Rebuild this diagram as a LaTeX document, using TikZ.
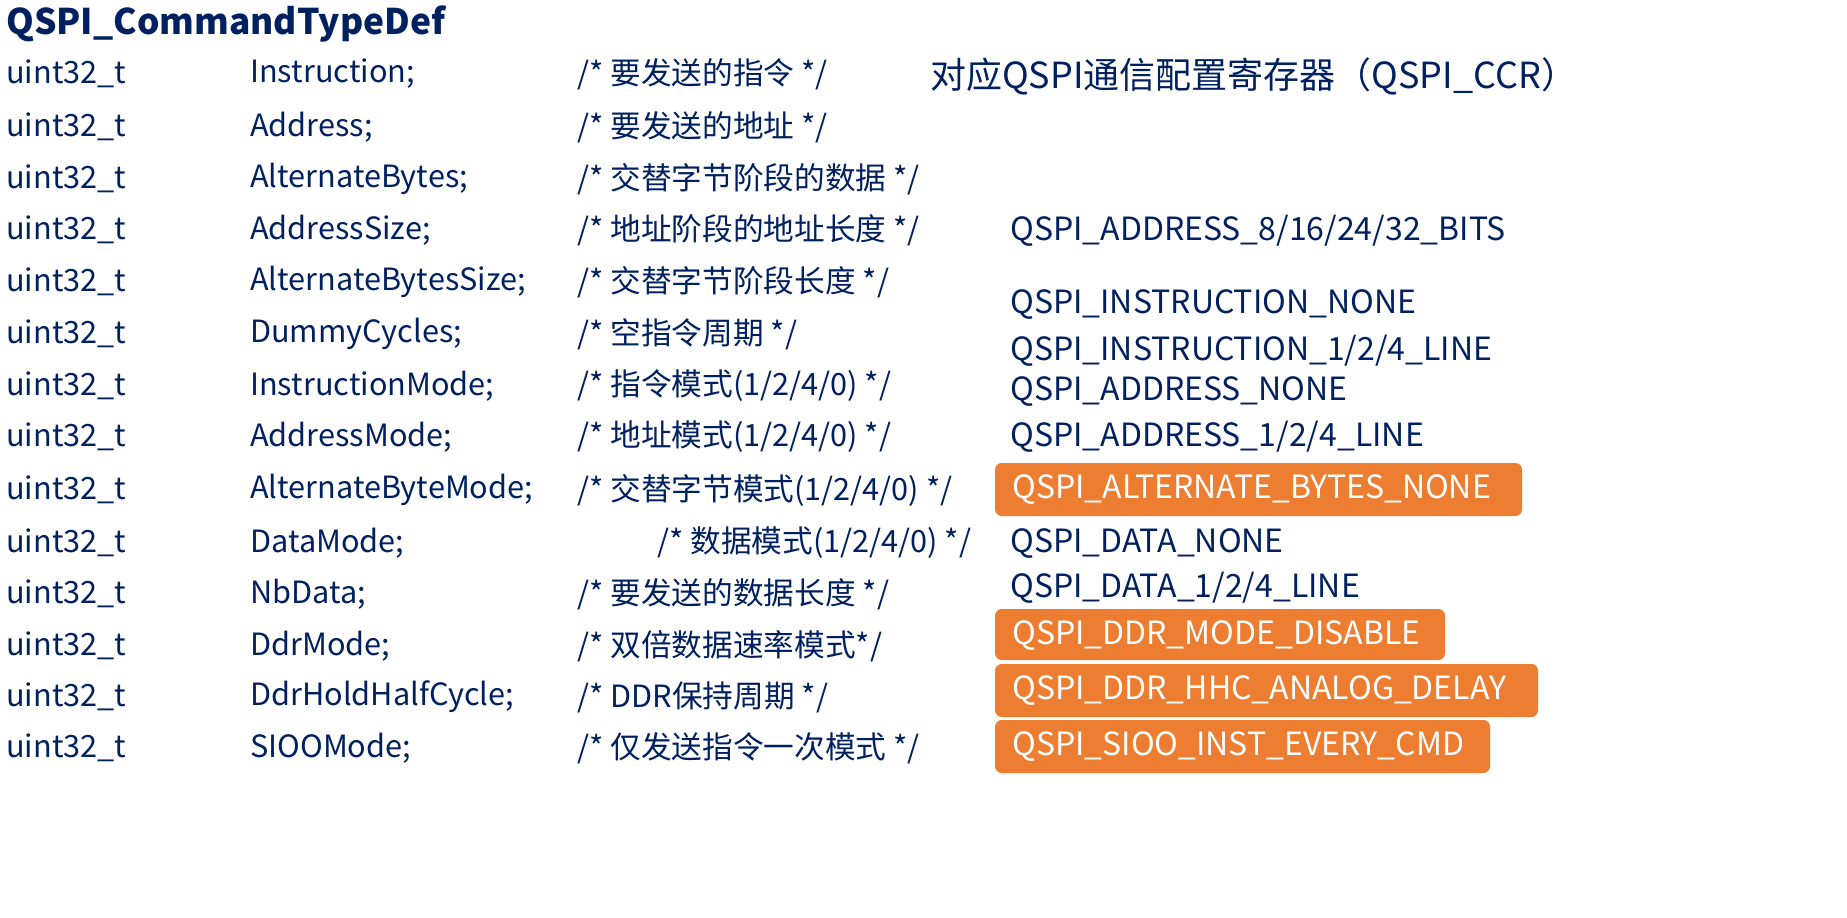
\documentclass[tikz,border=0pt]{standalone}
\usepackage{fontspec}
\setmainfont{Noto Sans CJK SC}
\definecolor{navy}{HTML}{002060}
\definecolor{org}{HTML}{ED7D31}
\begin{document}
\begin{tikzpicture}[x=0.75pt,y=-0.75pt,
  txt/.style={anchor=west,inner sep=0pt,text=navy,font=\fontsize{23}{26}\selectfont},
  rv/.style={txt,font=\fontsize{24}{27}\selectfont},
  obox/.style={fill=org,rounded corners=5pt,draw=none}]
\node[txt,font=\fontsize{26.5}{30}\selectfont\bfseries] (title) at (6,24) {QSPI\_CommandTypeDef};
\node[txt,font=\fontsize{27}{30}\selectfont] (ccr) at (930,76) {对应QSPI通信配置寄存器（QSPI\_CCR）};
\foreach \y/\f/\c/\cx [count=\i] in {
 74/Instruction;/{/* 要发送的指令 */}/577,
 127/Address;/{/* 要发送的地址 */}/577,
 179/AlternateBytes;/{/* 交替字节阶段的数据 */}/577,
 230/AddressSize;/{/* 地址阶段的地址长度 */}/577,
 282/AlternateBytesSize;/{/* 交替字节阶段长度 */}/577,
 334/DummyCycles;/{/* 空指令周期 */}/577,
 386/InstructionMode;/{/* 指令模式(1/2/4/0) */}/577,
 437/AddressMode;/{/* 地址模式(1/2/4/0) */}/577,
 490/AlternateByteMode;/{/* 交替字节模式(1/2/4/0) */}/577,
 543/DataMode;/{/* 数据模式(1/2/4/0) */}/657,
 594/NbData;/{/* 要发送的数据长度 */}/577,
 646/DdrMode;/{/* 双倍数据速率模式*/}/577,
 697/DdrHoldHalfCycle;/{/* DDR保持周期 */}/577,
 748/SIOOMode;/{/* 仅发送指令一次模式 */}/577}{
  \node[txt] (t\i) at (6,\y) {uint32\_t};
  \node[txt] (f\i) at (250,\y) {\f};
  \node[txt] (c\i) at (\cx,\y) {\c};
}
\fill[obox] (995,463) rectangle (1522,516);
\fill[obox] (995,609) rectangle (1445,660);
\fill[obox] (995,664) rectangle (1538,717);
\fill[obox] (995,720) rectangle (1490,773);
\foreach \y/\s [count=\i] in {
 231/{QSPI\_ADDRESS\_8/16/24/32\_BITS},
 305/{QSPI\_INSTRUCTION\_NONE},
 351/{QSPI\_INSTRUCTION\_1/2/4\_LINE},
 392/{QSPI\_ADDRESS\_NONE},
 437/{QSPI\_ADDRESS\_1/2/4\_LINE},
 543/{QSPI\_DATA\_NONE},
 588/{QSPI\_DATA\_1/2/4\_LINE}}{
  \node[rv] (v\i) at (1010,\y) {\s};
}
\node[rv,text=white] (o1) at (1012,490) {QSPI\_ALTERNATE\_BYTES\_NONE};
\node[rv,text=white] (o2) at (1012,635) {QSPI\_DDR\_MODE\_DISABLE};
\node[rv,text=white] (o3) at (1012,690) {QSPI\_DDR\_HHC\_ANALOG\_DELAY};
\node[rv,text=white] (o4) at (1012,746) {QSPI\_SIOO\_INST\_EVERY\_CMD};
\pgfresetboundingbox
\useasboundingbox (0,0) rectangle (1847,917);
\end{tikzpicture}
\end{document}
